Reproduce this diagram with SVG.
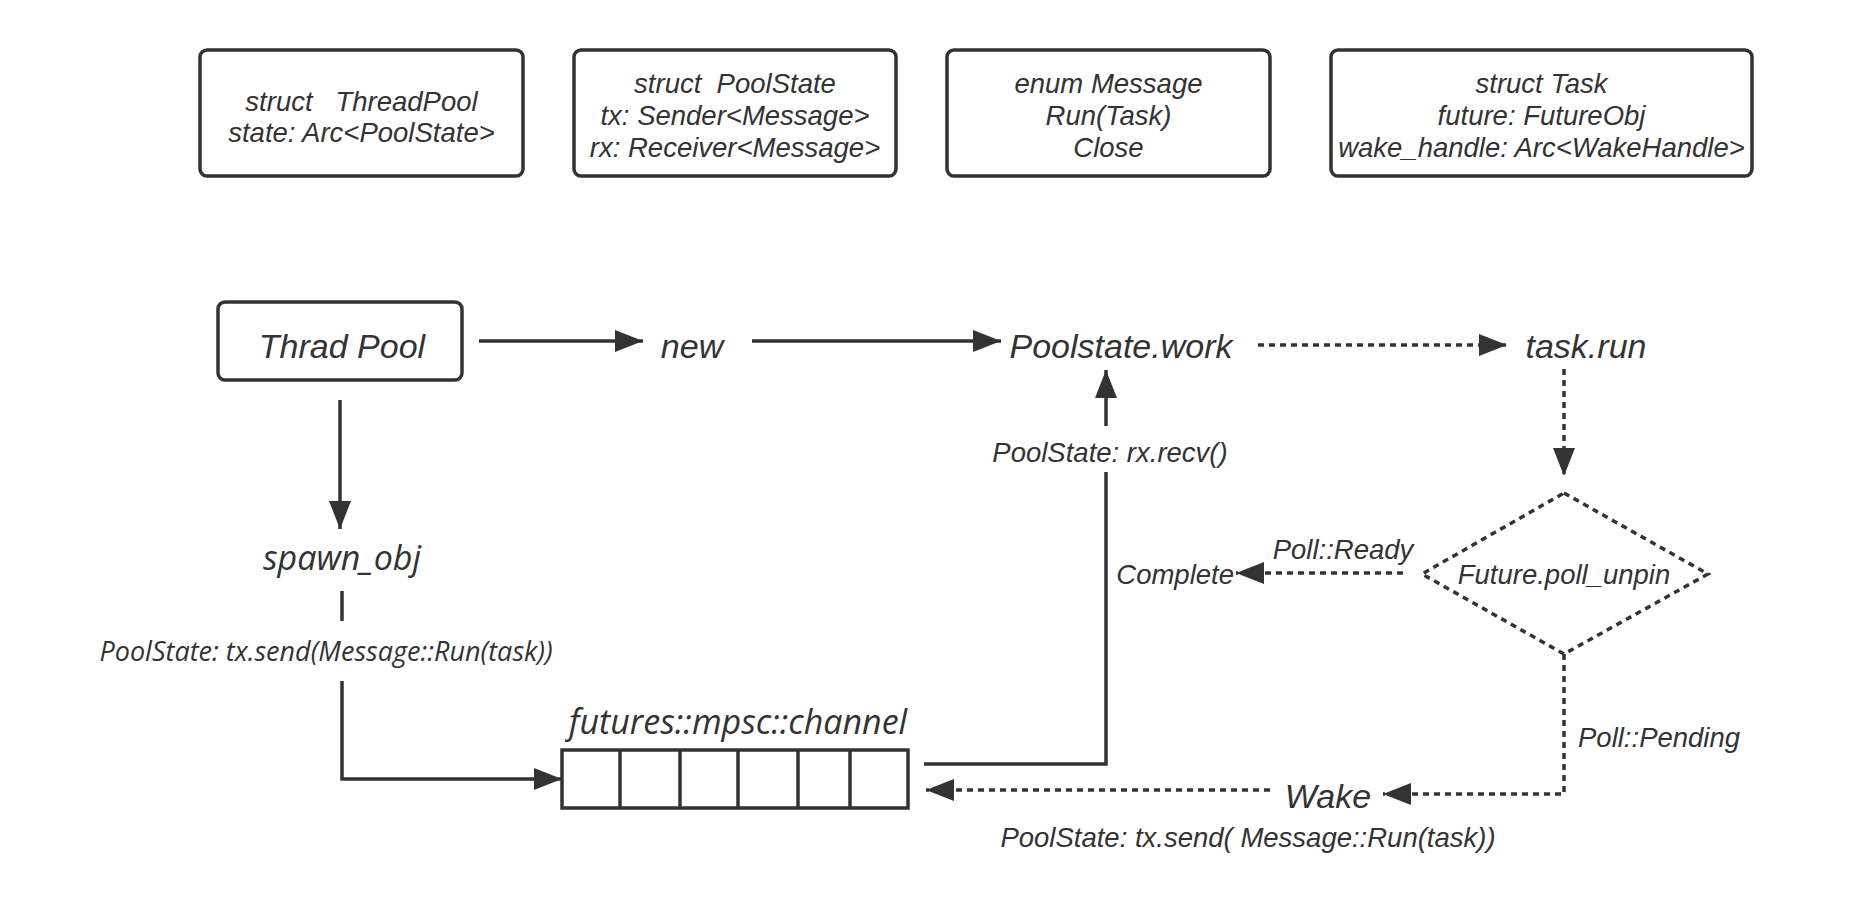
<svg xmlns="http://www.w3.org/2000/svg" width="1864" height="922" viewBox="0 0 1864 922">
<style>
.bg{fill:#ffffff}
.box{fill:#ffffff;stroke:#333333;stroke-width:3.5}
.t{font-family:"Liberation Sans",Arial,sans-serif;font-style:italic;fill:#333333;text-anchor:middle}
.big{font-size:34px}
.mid{font-size:27.5px}
.rd{font-family:"Open Sans","Noto Sans",sans-serif;font-style:italic;fill:#333333;text-anchor:middle}
.ln{fill:none;stroke:#333333;stroke-width:3.5}
.dt{fill:none;stroke:#333333;stroke-width:3.5;stroke-dasharray:6 5}
</style>
<defs>
<marker id="ah" markerUnits="userSpaceOnUse" markerWidth="28" markerHeight="22" refX="28" refY="11" orient="auto">
<path d="M0,0 L28,11 L0,22 z" fill="#333333"/>
</marker>
</defs>
<rect class="bg" x="0" y="0" width="1864" height="922"/>

<g id="struct-threadpool">
<rect class="box" x="200" y="50" width="323" height="126" rx="7"/>
<text class="t mid" x="361.5" y="111" xml:space="preserve">struct   ThreadPool</text>
<text class="t mid" x="361.5" y="142">state: Arc&lt;PoolState&gt;</text>
</g>
<g id="struct-poolstate">
<rect class="box" x="574" y="50" width="322" height="126" rx="7"/>
<text class="t mid" x="735" y="93" xml:space="preserve">struct  PoolState</text>
<text class="t mid" x="735" y="125">tx: Sender&lt;Message&gt;</text>
<text class="t mid" x="735" y="157">rx: Receiver&lt;Message&gt;</text>
</g>
<g id="enum-message">
<rect class="box" x="947" y="50" width="323" height="126" rx="7"/>
<text class="t mid" x="1108.5" y="93">enum Message</text>
<text class="t mid" x="1108.5" y="125">Run(Task)</text>
<text class="t mid" x="1108.5" y="157">Close</text>
</g>
<g id="struct-task">
<rect class="box" x="1331" y="50" width="421" height="126" rx="7"/>
<text class="t mid" x="1541.5" y="93">struct Task</text>
<text class="t mid" x="1541.5" y="125">future: FutureObj</text>
<text class="t mid" x="1541.5" y="157">wake_handle: Arc&lt;WakeHandle&gt;</text>
</g>

<g id="thread-pool">
<rect class="box" x="218" y="302" width="244" height="78" rx="7"/>
<text class="t big" x="342" y="358">Thrad Pool</text>
</g>
<g id="new"><text class="t big" x="692" y="358">new</text></g>
<g id="poolstate-work"><text class="t big" x="1121" y="358">Poolstate.work</text></g>
<g id="task-run"><text class="t big" x="1586" y="358">task.run</text></g>
<g id="spawn-obj"><text class="rd" font-size="34" x="342" y="570">spawn_obj</text></g>
<g id="future-poll-unpin">
<polygon class="dt" points="1564,493 1708,574 1564,654 1422,574"/>
<text class="t mid" x="1564" y="584">Future.poll_unpin</text>
</g>
<g id="complete"><text class="t mid" x="1234" y="584" style="text-anchor:end">Complete</text></g>
<g id="wake"><text class="t big" x="1328" y="808">Wake</text></g>
<g id="channel">
<text class="rd" font-size="34" x="738" y="734">futures::mpsc::channel</text>
<rect x="562" y="750" width="346" height="58" fill="#ffffff" stroke="#333333" stroke-width="3.5"/>
<line class="ln" x1="620" y1="750" x2="620" y2="808"/>
<line class="ln" x1="680" y1="750" x2="680" y2="808"/>
<line class="ln" x1="738" y1="750" x2="738" y2="808"/>
<line class="ln" x1="798" y1="750" x2="798" y2="808"/>
<line class="ln" x1="850" y1="750" x2="850" y2="808"/>
</g>

<g id="connectors">
<line class="ln" x1="479" y1="341" x2="643" y2="341" marker-end="url(#ah)"/>
<line class="ln" x1="752" y1="341" x2="1001" y2="341" marker-end="url(#ah)"/>
<line class="dt" x1="1258" y1="345" x2="1507" y2="345" marker-end="url(#ah)"/>
<line class="dt" x1="1564" y1="369" x2="1564" y2="476" marker-end="url(#ah)"/>
<line class="ln" x1="340" y1="400" x2="340" y2="529" marker-end="url(#ah)"/>
<line class="ln" x1="342" y1="591" x2="342" y2="621"/>
<path class="ln" d="M342,681 V779 H562" marker-end="url(#ah)"/>
<path class="ln" d="M924,764 H1106 V472"/>
<line class="ln" x1="1106" y1="426" x2="1106" y2="370" marker-end="url(#ah)"/>
<line class="dt" x1="1403" y1="573" x2="1236" y2="573" marker-end="url(#ah)"/>
<path class="dt" d="M1564,654 V794 H1383" marker-end="url(#ah)"/>
<line class="dt" x1="1270" y1="790" x2="926" y2="790" marker-end="url(#ah)"/>
<text class="rd" font-size="27" x="326" y="661">PoolState: tx.send(Message::Run(task))</text>
<text class="t mid" x="1110" y="462">PoolState: rx.recv()</text>
<text class="t mid" x="1343" y="559">Poll::Ready</text>
<text class="t mid" x="1578" y="747" style="text-anchor:start">Poll::Pending</text>
<text class="t mid" x="1248" y="847">PoolState: tx.send( Message::Run(task))</text>
</g>
</svg>
